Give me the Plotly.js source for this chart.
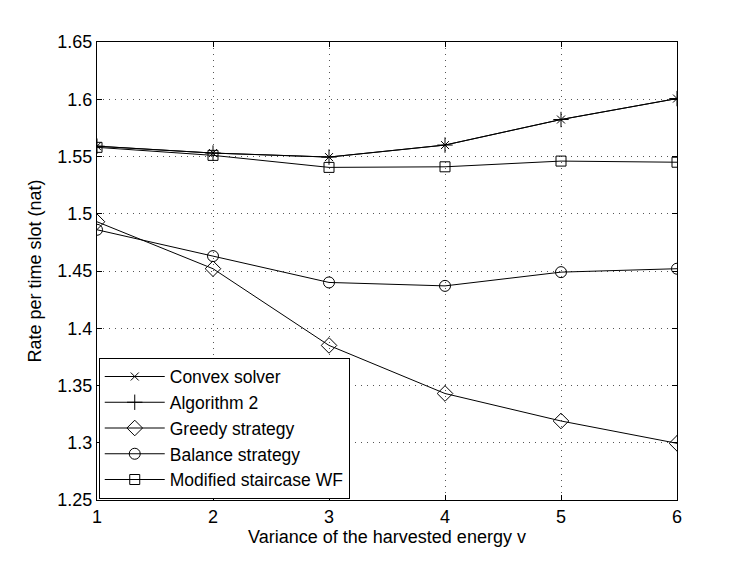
<!DOCTYPE html>
<html>
<head>
<meta charset="utf-8">
<script src="https://cdn.plot.ly/plotly-3.0.1.min.js"></script>
<style>
  html, body { margin: 0; padding: 0; background: #fff; }
  #chart { width: 747px; height: 562px; }
</style>
</head>
<body>
<div id="chart"></div>
<script>
var variance = [1, 2, 3, 4, 5, 6];
var convexSolver = [1.559, 1.553, 1.5495, 1.560, 1.5823, 1.6006];
var algorithm2 = [1.559, 1.553, 1.5495, 1.560, 1.5823, 1.6006];
var greedyStrategy = [1.493, 1.452, 1.385, 1.343, 1.319, 1.2995];
var balanceStrategy = [1.486, 1.463, 1.440, 1.437, 1.449, 1.452];
var staircaseWF = [1.558, 1.551, 1.5405, 1.541, 1.546, 1.545];
var yTicks = [1.25, 1.3, 1.35, 1.4, 1.45, 1.5, 1.55, 1.6, 1.65];
var yTickText = ['1.25', '1.3', '1.35', '1.4', '1.45', '1.5', '1.55', '1.6', '1.65'];

var FONT = 'Liberation Sans, Arial, Helvetica, sans-serif';

var makeTrace = function (name, y, symbol, size, group) {
    return {
        x: variance,
        y: y,
        name: name,
        legendgroup: group,
        type: 'scatter',
        mode: 'lines+markers',
        line: {color: '#000', width: 1},
        marker: {
            symbol: symbol,
            size: size,
            color: '#000',
            line: {color: '#000', width: 1}
        }
    };
};

var data = [
    makeTrace('Convex solver', convexSolver, 'x-thin-open', 8, 'a'),
    makeTrace('Algorithm 2', algorithm2, 'cross-thin-open', 11, 'b'),
    makeTrace('Greedy strategy', greedyStrategy, 'diamond-open', 12, 'c'),
    makeTrace('Balance strategy', balanceStrategy, 'circle-open', 11, 'd'),
    makeTrace('Modified staircase WF', staircaseWF, 'square-open', 10, 'e')
];

var axisStyle = {
    showline: true,
    linecolor: '#000',
    linewidth: 1,
    mirror: 'ticks',
    ticks: 'inside',
    ticklen: 5,
    tickcolor: '#000',
    showgrid: true,
    gridcolor: '#555',
    griddash: '1px,5px',
    gridwidth: 1,
    zeroline: false,
    tickfont: {family: FONT, size: 18, color: '#000'}
};

var layout = {
    width: 747,
    height: 562,
    margin: {l: 97, r: 70, t: 42, b: 62},
    paper_bgcolor: '#fff',
    plot_bgcolor: '#fff',
    font: {family: FONT, size: 18, color: '#000'},
    xaxis: Object.assign({}, axisStyle, {
        range: [1, 6],
        tickvals: variance,
        title: {text: 'Variance of the harvested energy v', standoff: 2, font: {family: FONT, size: 18}}
    }),
    yaxis: Object.assign({}, axisStyle, {
        range: [1.25, 1.65],
        tickvals: yTicks,
        ticktext: yTickText,
        title: {text: 'Rate per time slot (nat)', standoff: 11, font: {family: FONT, size: 18}}
    }),
    showlegend: true,
    legend: {
        x: 0.003,
        y: 0.003,
        xanchor: 'left',
        yanchor: 'bottom',
        bgcolor: '#fff',
        bordercolor: '#000',
        borderwidth: 1,
        traceorder: 'grouped',
        tracegroupgap: 0,
        itemwidth: 60,
        font: {family: FONT, size: 17.5, color: '#000'}
    }
};

Plotly.newPlot('chart', data, layout, {displayModeBar: false, staticPlot: true});
</script>
</body>
</html>
